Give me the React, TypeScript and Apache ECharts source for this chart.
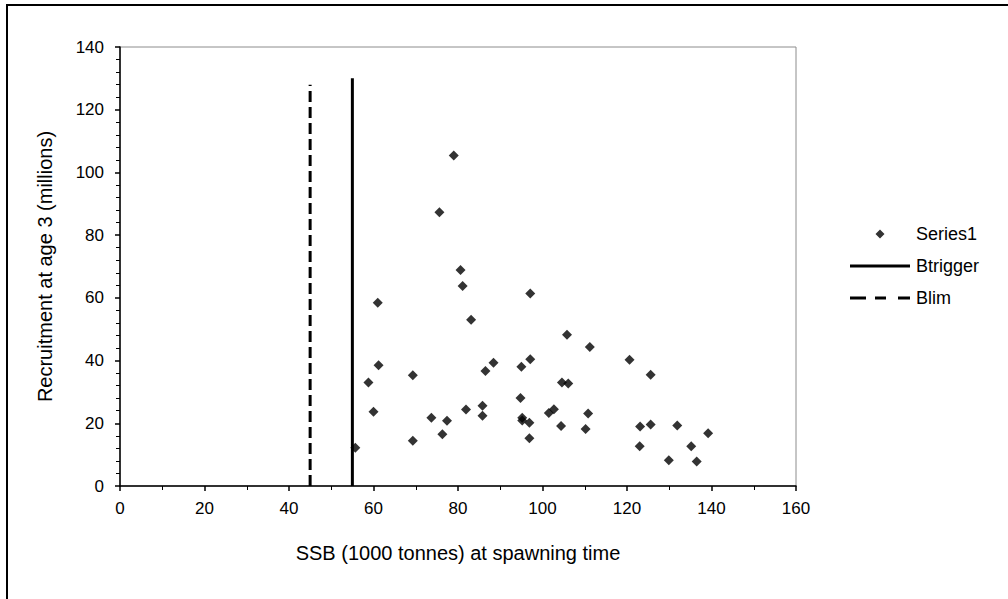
import React, { useEffect, useRef } from "react";
import * as echarts from "echarts";

const ssb: number[] = [55.7, 58.8, 60.0, 61.0, 61.2, 69.3, 69.3, 73.7, 75.6, 76.3, 77.4, 79.0, 80.6, 81.1, 81.9, 83.1, 85.8, 85.8, 86.5, 88.4, 94.8, 95.0, 95.2, 95.2, 96.9, 96.9, 97.1, 97.1, 101.5, 102.7, 104.4, 104.6, 106.1, 105.8, 110.2, 110.8, 111.2, 120.6, 125.6, 123.1, 123.0, 125.6, 131.9, 129.9, 135.2, 136.5, 139.2];
const recruitment: number[] = [12.2, 33.0, 23.7, 58.4, 38.5, 35.3, 14.4, 21.8, 87.3, 16.5, 20.8, 105.4, 68.9, 63.8, 24.4, 53.0, 25.6, 22.4, 36.7, 39.3, 28.1, 38.0, 21.8, 20.9, 20.2, 15.2, 61.4, 40.4, 23.3, 24.5, 19.1, 33.0, 32.7, 48.2, 18.2, 23.1, 44.3, 40.3, 35.5, 19.0, 12.7, 19.6, 19.3, 8.2, 12.7, 7.8, 16.8];

const btriggerX = [55, 55];
const btriggerY = [0, 130];
const blimX = [45, 45];
const blimY = [0, 128];

const seriesNames = ["Series1", "Btrigger", "Blim"];
const xTitle = "SSB (1000 tonnes) at spawning time";
const yTitle = "Recruitment at age 3 (millions)";

const FONT = "Liberation Sans, Arial, sans-serif";

// legend icons: all share a 60x10 bounding box (zero-length corner marks fix the box)
const BOX = "M0,0L0,0Z M60,10L60,10Z ";
const ICON_DIAMOND = "path://" + BOX + "M30,0.5L34.5,5L30,9.5L25.5,5Z";
const ICON_SOLID = "path://" + BOX + "M0,3.5h60v3h-60Z";
const ICON_DASH = "path://" + BOX + "M0,3.5h16v3h-16Z M25,3.5h11v3h-11Z M48,3.5h12v3h-12Z";

export default function App() {
  const ref = useRef<HTMLDivElement>(null);
  useEffect(() => {
    if (!ref.current) return;
    const chart = echarts.init(ref.current, null, { renderer: "svg" });
    chart.setOption({
      animation: false,
      backgroundColor: "#ffffff",
      textStyle: { fontFamily: FONT, color: "#000" },
      graphic: [
        {
          type: "rect",
          shape: { x: 7, y: 5, width: 1100, height: 700 },
          style: { fill: "none", stroke: "#000", lineWidth: 2 },
          silent: true,
        },
      ],
      grid: {
        left: 120,
        top: 47,
        right: 212,
        bottom: 113,
        show: true,
        borderColor: "#8c8c8c",
        borderWidth: 1,
        backgroundColor: "transparent",
      },
      legend: {
        data: [
          { name: seriesNames[0], icon: ICON_DIAMOND },
          { name: seriesNames[1], icon: ICON_SOLID },
          { name: seriesNames[2], icon: ICON_DASH },
        ],
        orient: "vertical",
        left: 845,
        top: 220,
        itemWidth: 60,
        itemHeight: 10,
        itemGap: 14,
        textStyle: { fontFamily: FONT, fontSize: 18, color: "#000", padding: [0, 0, 0, 1] },
        selectedMode: false,
      },
      xAxis: {
        type: "value",
        min: 0,
        max: 160,
        interval: 20,
        name: xTitle,
        nameLocation: "middle",
        nameGap: 57,
        nameTextStyle: { fontFamily: FONT, fontSize: 20, color: "#000" },
        axisLine: { show: true, onZero: false, lineStyle: { color: "#000", width: 1.5 } },
        axisTick: { show: true, length: 5, lineStyle: { color: "#000", width: 1.5 } },
        minorTick: { show: true, splitNumber: 2, length: 4, lineStyle: { color: "#000", width: 1 } },
        axisLabel: { fontFamily: FONT, fontSize: 17, color: "#000", margin: 14 },
        splitLine: { show: false },
      },
      yAxis: {
        type: "value",
        min: 0,
        max: 140,
        interval: 20,
        name: yTitle,
        nameLocation: "middle",
        nameGap: 65,
        nameTextStyle: { fontFamily: FONT, fontSize: 20, color: "#000" },
        axisLine: { show: true, onZero: false, lineStyle: { color: "#000", width: 1.5 } },
        axisTick: { show: true, length: 5, lineStyle: { color: "#000", width: 1.5 } },
        minorTick: { show: true, splitNumber: 5, length: 4, lineStyle: { color: "#000", width: 1 } },
        axisLabel: { fontFamily: FONT, fontSize: 17, color: "#000", margin: 16 },
        splitLine: { show: false },
      },
      series: [
        {
          name: seriesNames[0],
          type: "scatter",
          symbol: "diamond",
          symbolSize: 10,
          itemStyle: { color: "#000" },
          data: ssb.map((x, i) => [x, recruitment[i]]),
          z: 3,
        },
        {
          name: seriesNames[1],
          type: "line",
          symbol: "none",
          showSymbol: false,
          lineStyle: { color: "#000", width: 3, type: "solid" },
          itemStyle: { color: "#000" },
          data: btriggerX.map((x, i) => [x, btriggerY[i]]),
          z: 2,
        },
        {
          name: seriesNames[2],
          type: "line",
          symbol: "none",
          showSymbol: false,
          lineStyle: { color: "#000", width: 3, type: [11, 5] },
          itemStyle: { color: "#000" },
          data: blimX.map((x, i) => [x, blimY[i]]),
          z: 2,
        },
      ],
    });
    return () => chart.dispose();
  }, []);
  return (
    <div
      ref={ref}
      style={{ position: "fixed", left: 0, top: 0, width: 1008, height: 599, background: "#fff" }}
    />
  );
}
